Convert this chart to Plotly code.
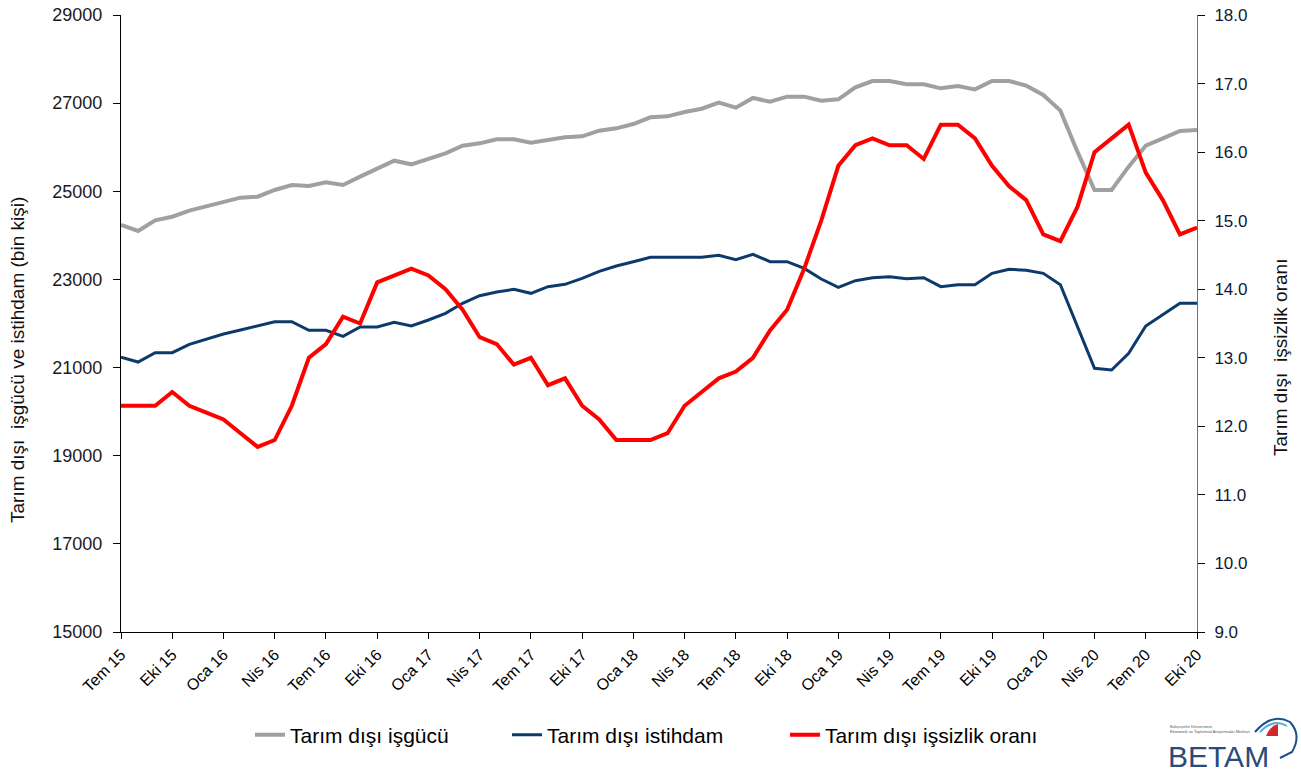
import plotly.graph_objects as go

month_names = ["Oca", "Şub", "Mar", "Nis", "May", "Haz", "Tem", "Ağu", "Eyl", "Eki", "Kas", "Ara"]
months = []
y, m = 2015, 6
while (y, m) <= (2020, 9):
    months.append(f"{month_names[m]} {str(y)[2:]}")
    m += 1
    if m == 12:
        m = 0
        y += 1

isgucu = [24235, 24100, 24340, 24423, 24560, 24666, 24772, 24855, 24877, 25030,
          25143, 25120, 25204, 25143, 25332, 25521, 25694, 25612, 25740, 25861,
          26035, 26088, 26178, 26178, 26103, 26156, 26224, 26247, 26375, 26428,
          26527, 26678, 26701, 26799, 26874, 27010, 26897, 27117, 27032, 27147,
          27147, 27057, 27087, 27359, 27502, 27502, 27427, 27427, 27336, 27389,
          27313, 27502, 27502, 27397, 27186, 26830, 25899, 25030, 25030, 25558,
          26035, 26202, 26368, 26391]

istihdam = [21233, 21126, 21338, 21338, 21528, 21641, 21762, 21853, 21943, 22041,
            22041, 21845, 21845, 21709, 21920, 21920, 22027, 21943, 22079, 22231,
            22458, 22631, 22715, 22775, 22685, 22836, 22889, 23025, 23184, 23305,
            23402, 23502, 23502, 23502, 23502, 23547, 23448, 23570, 23402, 23402,
            23250, 23010, 22821, 22972, 23040, 23063, 23017, 23040, 22836, 22881,
            22881, 23139, 23229, 23207, 23139, 22881, 21928, 20983, 20945, 21323,
            21943, 22193, 22458, 22458]

issizlik = [12.3, 12.3, 12.3, 12.5, 12.3, 12.2, 12.1, 11.9, 11.7, 11.8,
            12.3, 13.0, 13.2, 13.6, 13.5, 14.1, 14.2, 14.3, 14.2, 14.0,
            13.7, 13.3, 13.2, 12.9, 13.0, 12.6, 12.7, 12.3, 12.1, 11.8,
            11.8, 11.8, 11.9, 12.3, 12.5, 12.7, 12.8, 13.0, 13.4, 13.7,
            14.3, 15.0, 15.8, 16.1, 16.2, 16.1, 16.1, 15.9, 16.4, 16.4,
            16.2, 15.8, 15.5, 15.3, 14.8, 14.7, 15.2, 16.0, 16.2, 16.4,
            15.7, 15.3, 14.8, 14.9]

tick_labels = months[::3]
left_title = "Tarım dışı  işgücü ve istihdam (bin kişi)"
right_title = "Tarım dışı  işsizlik oranı"

font_family = "Liberation Sans, Arial, sans-serif"

# plot area in pixels: x 121..1197, y 15..632
L, R, T, B = 121, 1197, 15, 632
W, H = R - L, B - T


def px(xp):
    return (xp - L) / W


def py(yp):
    return (B - yp) / H


fig = go.Figure()
fig.add_trace(go.Scatter(x=months, y=isgucu, name="Tarım dışı işgücü", mode="lines",
                         line=dict(color="#A0A0A0", width=4), legend="legend2"))
fig.add_trace(go.Scatter(x=months, y=istihdam, name="Tarım dışı istihdam", mode="lines",
                         line=dict(color="#0B3A6B", width=3), legend="legend3"))
fig.add_trace(go.Scatter(x=months, y=issizlik, name="Tarım dışı işsizlik oranı", mode="lines",
                         line=dict(color="#FF0000", width=4), yaxis="y2", legend="legend4"))

leg_common = dict(orientation="h", yanchor="middle", xanchor="left",
                  font=dict(size=21, color="#000000", family=font_family),
                  bgcolor="rgba(0,0,0,0)")

fig.update_layout(
    width=1301, height=774,
    margin=dict(l=L, r=1301 - R, t=T, b=774 - B),
    paper_bgcolor="white", plot_bgcolor="white",
    font=dict(family=font_family, color="#111111", size=15),
    xaxis=dict(type="category", range=[0, len(months) - 1], automargin=False,
               tickmode="array", tickvals=tick_labels, ticktext=tick_labels,
               tickangle=-45, tickfont=dict(size=16, color="#000000"),
               showline=True, linecolor="#000000", linewidth=1,
               ticks="outside", ticklen=6, tickcolor="#000000",
               showgrid=False, zeroline=False),
    yaxis=dict(range=[15000, 29000], tick0=15000, dtick=2000, tickformat="d", automargin=False,
               showline=True, linecolor="#000000", linewidth=1,
               ticks="outside", ticklen=7, tickcolor="#000000", ticklabelstandoff=7,
               showgrid=False, zeroline=False, tickfont=dict(size=18, color="#1a1a1a")),
    yaxis2=dict(range=[9, 18], tick0=9, dtick=1, tickformat=".1f", overlaying="y", side="right",
                automargin=False,
                showline=True, linecolor="#707070", linewidth=1,
                ticks="outside", ticklen=7, tickcolor="#000000", ticklabelstandoff=6,
                showgrid=False, zeroline=False, tickfont=dict(size=17, color="#0d1a33")),
    legend2=dict(x=px(250), y=py(735), **leg_common),
    legend3=dict(x=px(507), y=py(735), **leg_common),
    legend4=dict(x=px(785), y=py(735), **leg_common),
)

# axis titles
fig.add_annotation(xref="paper", yref="paper", x=px(17), y=py(360), text=left_title,
                   textangle=-90, showarrow=False, font=dict(size=19, color="#111111"),
                   xanchor="center", yanchor="middle")
fig.add_annotation(xref="paper", yref="paper", x=px(1280), y=py(358), text=right_title,
                   textangle=-90, showarrow=False, font=dict(size=19, color="#111111"),
                   xanchor="center", yanchor="middle")

# BETAM logo (text + arc)
fig.add_annotation(xref="paper", yref="paper", x=px(1218), y=py(756), text="BETAM",
                   showarrow=False,
                   font=dict(size=30, color="#2B4B7A", family=font_family),
                   xanchor="center", yanchor="middle")
fig.add_annotation(xref="paper", yref="paper", x=px(1168), y=py(729),
                   text="Bahçeşehir Üniversitesi<br>Ekonomik ve Toplumsal Araştırmalar Merkezi",
                   showarrow=False, align="left",
                   font=dict(size=4, color="#555555"), xanchor="left", yanchor="middle")
fig.add_shape(type="path", xref="paper", yref="paper",
              path=f"M {px(1255)},{py(732)} Q {px(1272)},{py(712)} {px(1290)},{py(722)} "
                   f"Q {px(1302)},{py(735)} {px(1292)},{py(752)} L {px(1280)},{py(758)}",
              line=dict(color="#1F4E8C", width=2))
fig.add_shape(type="path", xref="paper", yref="paper",
              path=f"M {px(1260)},{py(732)} Q {px(1273)},{py(718)} {px(1287)},{py(726)}",
              line=dict(color="#5AAFD8", width=2))
fig.add_shape(type="path", xref="paper", yref="paper",
              path=f"M {px(1266)},{py(736)} L {px(1278)},{py(736)} L {px(1278)},{py(724)} Q {px(1270)},{py(726)} {px(1266)},{py(736)} Z",
              fillcolor="#D0282D", line=dict(width=0))

fig.write_html("out.html", config={"displayModeBar": False},
               post_script="document.body.style.margin='0px';")
